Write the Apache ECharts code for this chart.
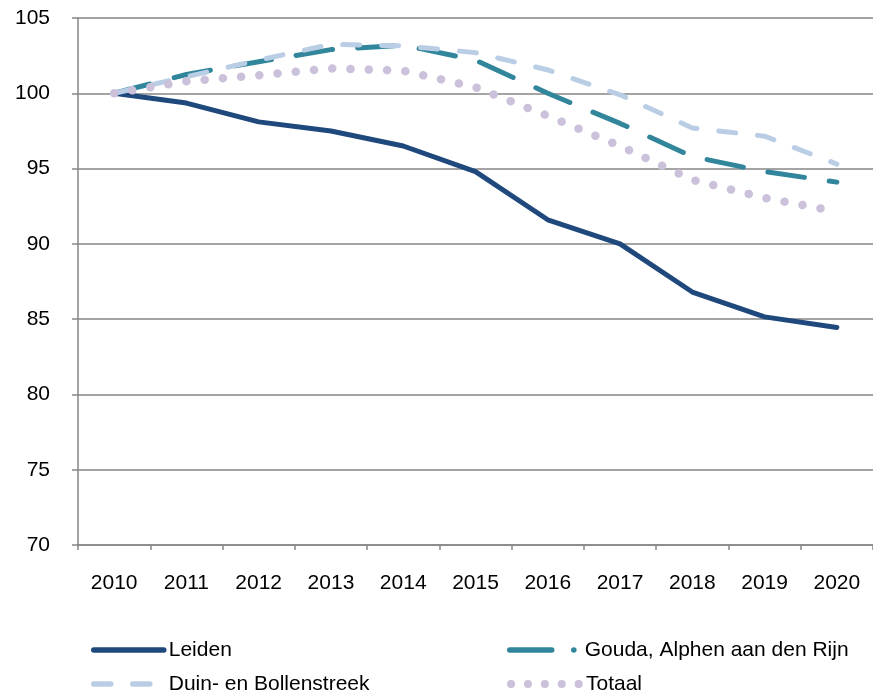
<!DOCTYPE html>
<html>
<head>
<meta charset="utf-8">
<script src="https://cdn.jsdelivr.net/npm/echarts@6/dist/echarts.min.js"></script>
<style>
html,body{margin:0;padding:0;background:#fff;}
#chart{width:873px;height:695px;}
</style>
</head>
<body>
<div id="chart"></div>
<script>
var years = ['2010','2011','2012','2013','2014','2015','2016','2017','2018','2019','2020'];
var leiden = [100, 99.35, 98.1, 97.5, 96.5, 94.8, 91.6, 90.0, 86.8, 85.15, 84.45];
var gouda  = [100, 101.25, 102.1, 102.9, 103.2, 102.2, 100.0, 98.0, 95.8, 94.8, 94.1];
var duin   = [100, 101.1, 102.2, 103.25, 103.15, 102.7, 101.55, 99.9, 97.7, 97.15, 95.3];
var totaal = [100, 100.8, 101.2, 101.65, 101.5, 100.4, 98.5, 96.5, 94.25, 93.05, 92.15];
var yTicks = {min: 70, max: 105, interval: 5};
var names = ['Leiden', 'Gouda, Alphen aan den Rijn', 'Duin- en Bollenstreek', 'Totaal'];

var FONT = '"Liberation Sans", Arial, sans-serif';
var FS = 21;
var colors = ['#1f497d', '#31869b', '#b9cde5', '#ccc1da'];
var styles = [
  {width: 5, type: 'solid'},
  {width: 5, type: [37, 25]},
  {width: 5, type: [17, 22]},
  {width: 8.5, type: [0.1, 18.2]}
];
var legendStyles = [
  {width: 5.5, type: 'solid'},
  {width: 5.5, type: [42, 22, 0.1, 40]},
  {width: 5.5, type: [17, 22]},
  {width: 8, type: [0.1, 16.8]}
];
var legendPos = [
  {left: 91, top: 639},
  {left: 507, top: 639},
  {left: 91, top: 673},
  {left: 507, top: 673}
];
var dataArr = [leiden, gouda, duin, totaal];

var series = names.map(function(n, i){
  return {
    name: n, type: 'line', data: dataArr[i],
    symbol: 'none', showSymbol: false, smooth: false,
    lineStyle: {color: colors[i], width: styles[i].width, type: styles[i].type, cap: 'round', join: 'round'},
    itemStyle: {color: colors[i]},
    z: 2 + i,
    animation: false
  };
});

var legends = names.map(function(n, i){
  return {
    data: [n],
    left: legendPos[i].left, top: legendPos[i].top,
    orient: 'horizontal',
    itemWidth: 70, itemHeight: 20,
    padding: 0,
    selectedMode: false,
    itemStyle: {color: 'rgba(0,0,0,0)', borderColor: 'rgba(0,0,0,0)', borderWidth: 0},
    lineStyle: {color: colors[i], width: legendStyles[i].width, type: legendStyles[i].type, cap: 'round'},
    textStyle: {fontFamily: FONT, fontSize: FS, color: '#000', lineHeight: 22}
  };
});

var chart = echarts.init(document.getElementById('chart'), null, {renderer: 'canvas'});
chart.setOption({
  animation: false,
  backgroundColor: '#fff',
  grid: {left: 78, top: 18, width: 802, bottom: 150, containLabel: false},
  legend: legends,
  xAxis: {
    type: 'category', data: years, boundaryGap: true,
    axisLine: {show: true, lineStyle: {color: '#868686', width: 1.5}},
    axisTick: {show: true, alignWithLabel: false, length: 5, lineStyle: {color: '#868686', width: 1.5}},
    axisLabel: {margin: 28, fontFamily: FONT, fontSize: FS, color: '#000', interval: 0},
    splitLine: {show: false}
  },
  yAxis: {
    type: 'value', min: yTicks.min, max: yTicks.max, interval: yTicks.interval,
    axisLine: {show: true, lineStyle: {color: '#868686', width: 1.5}},
    axisTick: {show: true, length: 6, lineStyle: {color: '#868686', width: 1.5}},
    axisLabel: {margin: 28, fontFamily: FONT, fontSize: FS, color: '#000'},
    splitLine: {show: true, lineStyle: {color: '#868686', width: 1.5}}
  },
  series: series
});
</script>
</body>
</html>
